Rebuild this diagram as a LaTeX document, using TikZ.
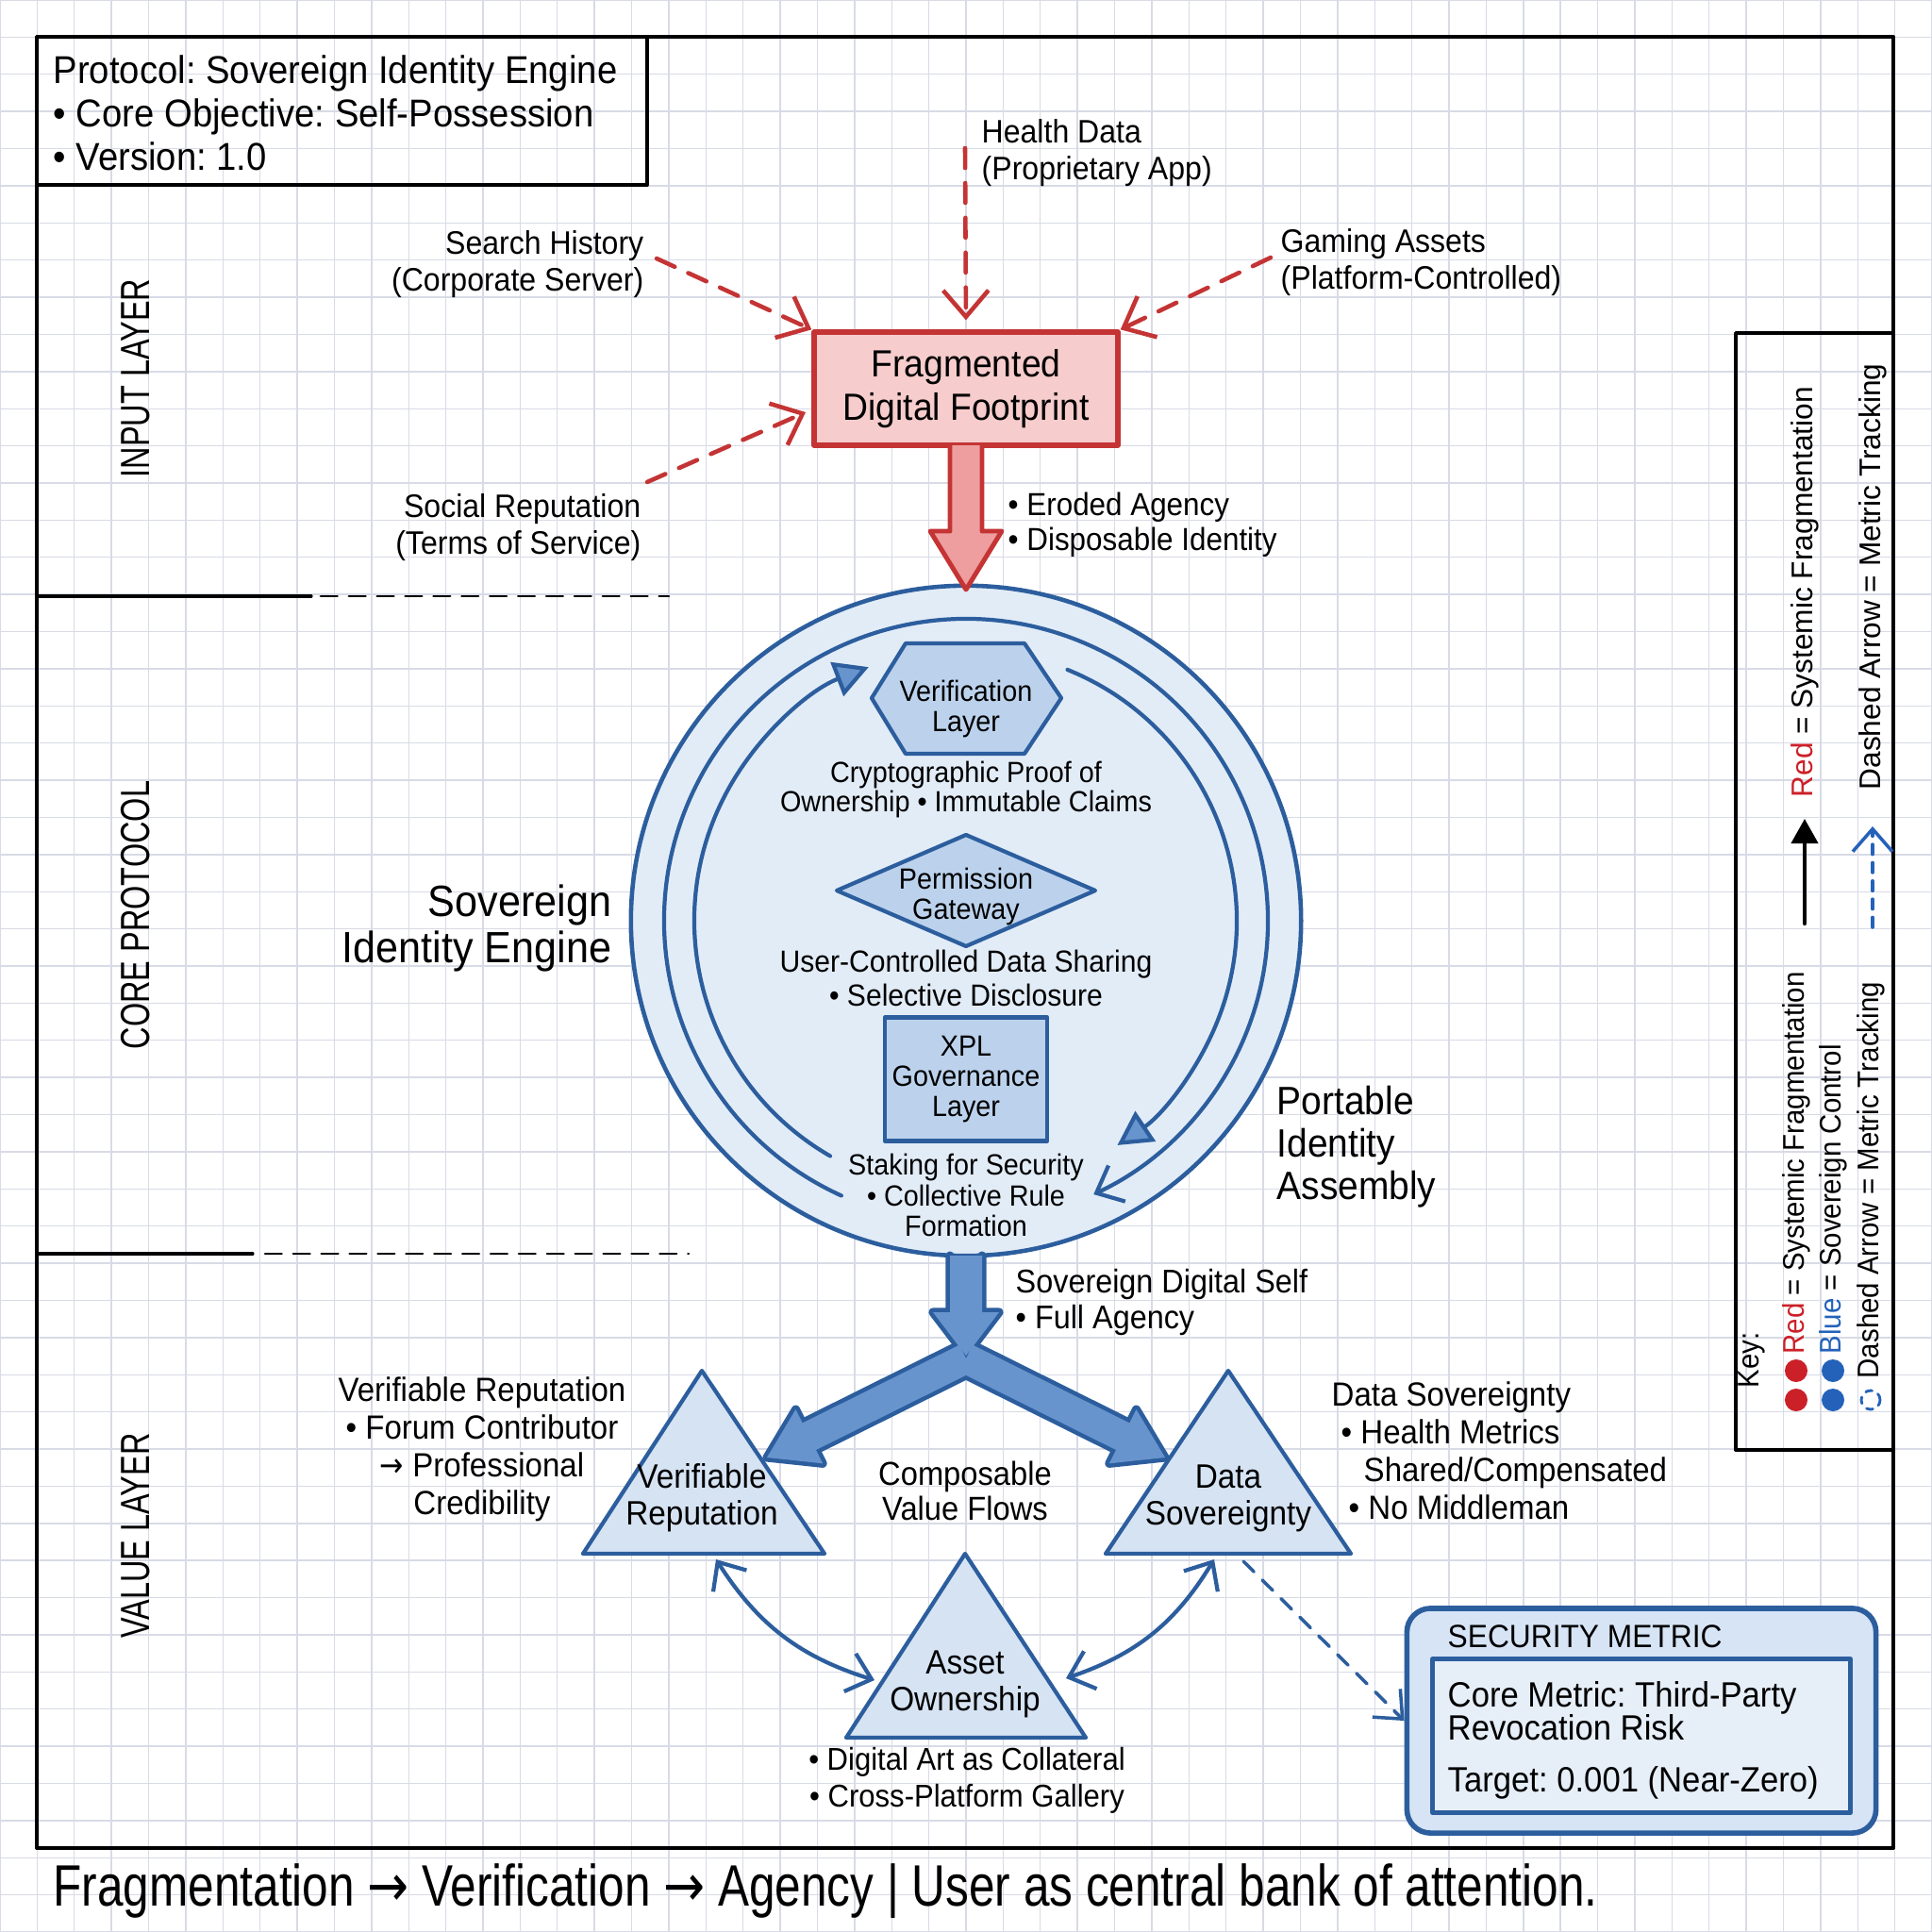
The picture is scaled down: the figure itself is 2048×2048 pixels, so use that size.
\documentclass[tikz,border=0pt]{standalone}
\usepackage{fontspec}
\setmainfont{Liberation Sans}[FakeStretch=0.93]
\newfontfamily\secfont{Liberation Sans}[FakeStretch=0.75]
\newfontfamily\handfont{Liberation Sans}[FakeStretch=0.8]
\newfontfamily\keyfont{Liberation Sans}
\newfontfamily\symfont{DejaVu Sans}[FakeStretch=0.85]
\newcommand\toarr{{\symfont →}}
\frenchspacing
\usetikzlibrary{arrows.meta}
\definecolor{gridc}{RGB}{216,219,230}
\definecolor{fragred}{RGB}{196,52,52}
\definecolor{fragfill}{RGB}{246,204,204}
\definecolor{fragarrow}{RGB}{238,158,158}
\definecolor{sovblue}{RGB}{44,94,158}
\definecolor{engfill}{RGB}{226,236,247}
\definecolor{shapefill}{RGB}{188,210,236}
\definecolor{trifill}{RGB}{214,227,243}
\definecolor{arrowfill}{RGB}{104,148,206}
\definecolor{secfill}{RGB}{214,228,245}
\definecolor{secinner}{RGB}{230,238,248}
\definecolor{keyred}{RGB}{204,32,40}
\definecolor{keyblue}{RGB}{36,98,186}
\begin{document}
\begin{tikzpicture}[x=0.01cm,y=-0.01cm,line cap=round,line join=round,
  every node/.style={inner sep=0pt},
  blackline/.style={line width=1.1pt,black},
  divdash/.style={line width=0.8pt,dash pattern=on 5pt off 3.5pt},
  inarrow/.style={line width=1.3pt,fragred,dash pattern=on 6pt off 4.5pt,-{Straight Barb[length=2.8mm,width=4.8mm]}},
  sovline/.style={line width=1.2pt,sovblue},
  ringtip/.style={-{Triangle[length=3.6mm,width=3.8mm,fill=arrowfill]}},
  opentip/.style={-{Straight Barb[length=2.4mm,width=4.2mm]}},
  yline/.style={draw=sovblue,line width=2.6pt},
  yfill/.style={fill=arrowfill},
  titletxt/.style={font=\fontsize{11.7}{13.1}\selectfont,align=left},
  seclbl/.style={font=\secfont\fontsize{12.3}{13}\selectfont,rotate=90},
  srclbl/.style={font=\fontsize{9.8}{11.1}\selectfont},
  ringtxt/.style={font=\fontsize{8.8}{9.1}\selectfont,align=center},
  valtxt/.style={font=\fontsize{10.1}{11.4}\selectfont},
  keytxt/.style={font=\fontsize{9}{10}\selectfont,rotate=90,anchor=west}]
% paper
\fill[white] (0,0) rectangle (2048,2048);
\useasboundingbox (0,0) rectangle (2048,2048);
\foreach \i in {0,...,52}{
  \draw[gridc,line width=0.4pt] (\i*39.385,0) -- (\i*39.385,2048);
  \draw[gridc,line width=0.4pt] (0,\i*39.385) -- (2048,\i*39.385);
}
\draw[blackline] (39,39) rectangle (2007,1959);
\draw[blackline] (39,39) rectangle (686,196);
\node[titletxt,anchor=west] (title) at (56,120) {Protocol: Sovereign Identity Engine\\ • Core Objective: Self-Possession\\ • Version: 1.0};
% layers
\draw[blackline,line width=0.9pt] (39,632) -- (330,632);
\draw[divdash] (340,632) -- (709,632);
\draw[blackline,line width=0.9pt] (39,1329) -- (268,1329);
\draw[divdash] (281,1329) -- (730,1329);
\node[seclbl] (inputlbl) at (144,401) {INPUT LAYER};
\node[seclbl] (corelbl) at (144,970) {CORE PROTOCOL};
\node[seclbl] (valuelbl) at (144,1628) {VALUE LAYER};
% input layer
\node[draw=fragred,line width=1.5pt,fill=fragfill,minimum width=3.22cm,minimum height=1.2cm,
  font=\fontsize{11.4}{13}\selectfont,align=center] (frag) at (1024,412) {Fragmented\\Digital Footprint};
\node[srclbl,align=right,anchor=east] (search) at (683,280) {Search History\\(Corporate Server)};
\node[srclbl,align=left,anchor=west] (health) at (1040,162) {Health Data\\(Proprietary App)};
\node[srclbl,align=left,anchor=west] (gaming) at (1357,278) {Gaming Assets\\(Platform-Controlled)};
\node[srclbl,align=right,anchor=east] (social) at (680,559) {Social Reputation\\(Terms of Service)};
\coordinate (searchout) at (696,274);
\coordinate (healthout) at (1023,157);
\coordinate (gamingout) at (1347,273);
\coordinate (socialout) at (686,511);
\coordinate (socialin) at (854,437);
\draw[inarrow] (searchout) -- (frag.north west);
\draw[inarrow,shorten >=1mm] (healthout) -- (frag.north);
\draw[inarrow] (gamingout) -- (frag.north east);
\draw[inarrow] (socialout) -- (socialin);
% core protocol
\node[circle,draw=sovblue,line width=1.3pt,fill=engfill,minimum size=7.1cm] (eng) at (1024,976) {};
\draw[sovline,opentip] (eng.center) ++(-245.6:320) arc[start angle=-245.6,end angle=65,radius=320];
\draw[sovline,ringtip] (eng.center) ++(-240:288) arc[start angle=-240,end angle=-111,radius=288];
\draw[sovline,ringtip] (eng.center) ++(-68:287) arc[start angle=-68,end angle=56,radius=287];
\draw[fragred,line width=1.4pt,fill=fragarrow] (1007,472) -- (1007,563) -- (986,563) -- (1024,625) -- (1062,563) -- (1041,563) -- (1041,472);
\node[srclbl,align=left,anchor=west,font=\fontsize{9.6}{10.5}\selectfont] (erode) at (1068,556) {• Eroded Agency\\• Disposable Identity};
\draw[sovline,fill=shapefill] (924,740) -- (960,682) -- (1086,682) -- (1125,740) -- (1086,799) -- (960,799) -- cycle;
\node[ringtxt] (verif) at (1024,751) {Verification\\Layer};
\node[ringtxt,font=\fontsize{8.8}{8.6}\selectfont] (crypto) at (1024,837) {Cryptographic Proof of\\Ownership • Immutable Claims};
\draw[sovline,fill=shapefill] (887,944) -- (1024,885) -- (1161,944) -- (1024,1003) -- cycle;
\node[ringtxt] (perm) at (1024,950) {Permission\\Gateway};
\node[ringtxt,font=\fontsize{9.2}{10}\selectfont] (share) at (1024,1037) {User-Controlled Data Sharing\\• Selective Disclosure};
\node[draw=sovblue,line width=1.2pt,fill=shapefill,minimum width=1.72cm,minimum height=1.31cm,ringtxt] (xpl) at (1024,1144) {XPL\\Governance\\Layer};
\node[ringtxt,font=\fontsize{8.8}{9.25}\selectfont] (stake) at (1024,1267) {Staking for Security\\• Collective Rule\\Formation};
\node[align=right,anchor=east,font=\fontsize{13.2}{13.7}\selectfont] (englbl) at (649,984) {Sovereign\\Identity Engine};
\node[align=left,anchor=west,font=\fontsize{11.9}{12.8}\selectfont] (portlbl) at (1353,1216) {Portable\\Identity\\Assembly};
% value layer
\path[yline] (1031.1,1425.7) -- (1197.3,1508.4) -- (1204.5,1494.1) -- (1235,1545) -- (1175.9,1551.3) -- (1183.1,1537) -- (1016.9,1454.3) -- cycle;
\path[yline] (1016.9,1425.7) -- (850.7,1508.4) -- (843.5,1494.1) -- (813,1545) -- (872.1,1551.3) -- (864.9,1537) -- (1031.1,1454.3) -- cycle;
\path[yline] (1007,1331) -- (1007,1391) -- (989,1391) -- (1024,1437) -- (1059,1391) -- (1041,1391) -- (1041,1331);
\path[yfill] (1031.1,1425.7) -- (1197.3,1508.4) -- (1204.5,1494.1) -- (1235,1545) -- (1175.9,1551.3) -- (1183.1,1537) -- (1016.9,1454.3) -- cycle;
\path[yfill] (1016.9,1425.7) -- (850.7,1508.4) -- (843.5,1494.1) -- (813,1545) -- (872.1,1551.3) -- (864.9,1537) -- (1031.1,1454.3) -- cycle;
\path[yfill] (1007,1331) -- (1007,1391) -- (989,1391) -- (1024,1437) -- (1059,1391) -- (1041,1391) -- (1041,1331) -- cycle;
\node[valtxt,align=left,anchor=west,font=\fontsize{9.9}{10.8}\selectfont] (sdself) at (1076,1380) {Sovereign Digital Self\\• Full Agency};
\draw[sovline,fill=trifill] (744,1453) -- (874,1647) -- (618,1647) -- cycle;
\draw[sovline,fill=trifill] (1302,1453) -- (1432,1647) -- (1172,1647) -- cycle;
\draw[sovline,fill=trifill] (1023,1647) -- (1151,1842) -- (897,1842) -- cycle;
\node[valtxt,align=center,font=\fontsize{10.2}{11.1}\selectfont] (vrtri) at (744,1588) {Verifiable\\Reputation};
\node[valtxt,align=center,font=\fontsize{10.2}{11.1}\selectfont] (dstri) at (1302,1588) {Data\\Sovereignty};
\node[valtxt,align=center,font=\fontsize{10.2}{11.1}\selectfont] (aotri) at (1023,1785) {Asset\\Ownership};
\node[valtxt,align=center,font=\fontsize{10}{10.5}\selectfont] (flows) at (1023,1580) {Composable\\Value Flows};
\node[valtxt,align=center] (vrlbl) at (511,1536) {Verifiable Reputation\\• Forum Contributor\\\toarr{} Professional\\Credibility};
\node[valtxt,align=left,anchor=west] (dslbl) at (1411,1538) {Data Sovereignty\\\hspace*{0.1cm}• Health Metrics\\\hspace*{0.34cm}Shared/Compensated\\\hspace*{0.18cm}• No Middleman};
\node[valtxt,align=center,font=\fontsize{9.5}{11.1}\selectfont] (aolbl) at (1025,1887) {• Digital Art as Collateral\\• Cross-Platform Gallery};
\coordinate (vrfoot) at (759,1653);
\coordinate (aoleft) at (927,1781);
\coordinate (dsfoot) at (1287,1653);
\coordinate (aoright) at (1130,1779);
\coordinate (dsout) at (1318,1655);
\draw[sovline,{Straight Barb[length=2.4mm,width=4.2mm]}-{Straight Barb[length=2.4mm,width=4.2mm]}] (vrfoot) to[bend right=20] (aoleft);
\draw[sovline,{Straight Barb[length=2.4mm,width=4.2mm]}-{Straight Barb[length=2.4mm,width=4.2mm]}] (dsfoot) to[bend left=20] (aoright);
% security metric
\node[draw=sovblue,line width=1.6pt,fill=secfill,rounded corners=0.25cm,minimum width=4.97cm,minimum height=2.38cm] (sec) at (1740,1824) {};
\node[draw=sovblue,line width=1.3pt,fill=secinner,minimum width=4.43cm,minimum height=1.63cm] (secbox) at (1740,1840) {};
\draw[sovline,line width=1pt,dash pattern=on 4.5pt off 3.5pt,opentip] (dsout) -- (sec.west);
\node[anchor=west,font=\fontsize{9.7}{11}\selectfont] (sechd) at (1534,1735) {SECURITY METRIC};
\node[anchor=west,align=left,font=\fontsize{10.6}{10}\selectfont] (secrisk) at (1534,1814) {Core Metric: Third-Party\\Revocation Risk};
\node[anchor=west,font=\fontsize{10.6}{10}\selectfont] (sectarget) at (1534,1890) {Target: 0.001 (Near-Zero)};
% key
\draw[blackline] (1840,353) rectangle (2007,1537);
\node[keytxt] (keyhd) at (1857,1472) {Key:};
\fill[keyred] (1904,1484) circle (0.12cm) (1904,1453) circle (0.12cm);
\fill[keyblue] (1943,1484) circle (0.12cm) (1943,1453) circle (0.12cm);
\draw[keyblue,line width=0.8pt,dash pattern=on 2pt off 2pt] (1983,1484) circle (0.1cm);
\node[keytxt] (keyred1) at (1904,1436) {\textcolor{keyred}{Red} = Systemic Fragmentation};
\node[keytxt] (keyblue1) at (1943,1436) {\textcolor{keyblue}{Blue} = Sovereign Control};
\node[keytxt] (keydash1) at (1983,1462) {Dashed Arrow = Metric Tracking};
\draw[line width=1.2pt,-{Triangle[length=2.6mm,width=2.8mm]}] (1913,979) -- (1913,868);
\node[keytxt,font=\keyfont\fontsize{9}{10}\selectfont] (keyred2) at (1913,846) {\textcolor{keyred}{Red} = Systemic Fragmentation};
\draw[keyblue,line width=1pt,dash pattern=on 3pt off 2.5pt,opentip] (1985,983) -- (1985,876);
\node[keytxt,font=\keyfont\fontsize{9}{10}\selectfont] (keydash2) at (1985,838) {Dashed Arrow = Metric Tracking};
% motto
\node[anchor=west,font=\handfont\fontsize{17.6}{19}\selectfont] (motto) at (56,2005) {Fragmentation \toarr{} Verification \toarr{} Agency | User as central bank of attention.};
\end{tikzpicture}
\end{document}
